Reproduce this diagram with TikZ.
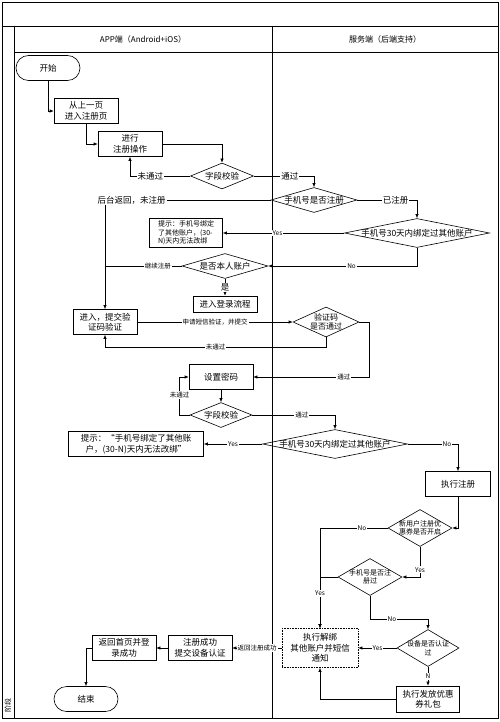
\documentclass[tikz,border=0pt]{standalone}
\usepackage{fontspec}
\setmainfont{Noto Sans CJK SC}
\usetikzlibrary{arrows.meta,shapes.geometric,calc}

\begin{document}
\begin{tikzpicture}[x=1pt,y=-1pt,line width=.6pt,
    >={Latex[length=4pt,width=3.4pt]},
    every node/.style={font=\fontsize{8.5}{10.5}\selectfont,align=center,inner sep=1pt},
    box/.style={draw,minimum width=64pt,minimum height=25pt},
    term/.style={box,rounded corners=12.5pt},
    dia/.style 2 args={draw,diamond,inner sep=0pt,minimum width=#1,minimum height=#2},
    small/.style={font=\fontsize{7}{8.5}\selectfont},
    lab/.style={fill=white,inner sep=1pt},
    tlab/.style={lab,font=\fontsize{6.5}{7}\selectfont},
    lane/.style={line width=.9pt}]
        \useasboundingbox (0,0) rectangle (500,722);
        % pool and lanes
        \draw[lane] (2,2) rectangle (498,718);
        \draw[lane] (2,26) -- (498,26) (14,26) -- (14,718) (14,52) -- (498,52) (272,26) -- (272,718);
        \node[font=\fontsize{8}{9}\selectfont] (App) at (143,39) {APP端（Android+iOS）};
        \node[font=\fontsize{8}{9}\selectfont] (Srv) at (385,39) {服务端（后端支持）};
        \node[rotate=90,font=\fontsize{7}{8}\selectfont] (Stage) at (8,705) {阶段};

        % app side
        \node[term] (Start) at (48,68) {开始};
        \node[box] (Prev) at (86,111) {从上一页\\进入注册页};
        \node[box] (Op) at (130,144) {进行\\注册操作};
        \node[dia={63}{26},label=center:{字段校验}] (Chk1) at (222,176) {};
        \node[box,align=left,minimum width=73pt,minimum height=29pt,font=\fontsize{7}{8.5}\selectfont] (Tip1) at (186,233) {提示：手机号绑定\\了其他账户，(30-\\N)天内无法改绑};
        \node[dia={86}{25},label=center:{是否本人账户}] (Self) at (225,266) {};
        \node[box,minimum height=16pt] (Login) at (225,304) {进入登录流程};
        \node[box] (Code) at (105,322) {进入，提交验\\证码验证};
        \node[box] (Pwd) at (221,377) {设置密码};
        \node[dia={62}{25},label=center:{字段校验}] (Chk2) at (221,415) {};
        \node[box,minimum width=135pt] (Tip2) at (136,444) {提示：“手机号绑定了其他账\\户，(30-N)天内无法改绑”};
        \node[box] (Succ) at (200,648) {注册成功\\提交设备认证};
        \node[box] (Home) at (124,648) {返回首页并登\\录成功};
        \node[term] (End) at (86,699) {结束};

        % server side
        \node[dia={86}{25},label=center:{手机号是否注册}] (Reg) at (314,200) {};
        \node[dia={145}{29},label=center:{手机号30天内绑定过其他账户}] (Bind1) at (417,233) {};
        \node[dia={66}{30},label={[font=\fontsize{8}{9.5}\selectfont]center:{验证码\\是否通过}}] (CodeOk) at (326,322) {};
        \node[dia={145}{29},label=center:{手机号30天内绑定过其他账户}] (Bind2) at (335,444) {};
        \node[box,minimum width=65pt] (Exec) at (458,484) {执行注册};
        \node[dia={64}{37},label={[small]center:{新用户注册优\\惠券是否开启}}] (Coupon) at (420,528) {};
        \node[dia={64}{37},label={[small]center:{手机号是否注\\册过}}] (Regd) at (370,577) {};
        \node[dia={62}{37},label={[small]center:{设备是否认证\\过}}] (Dev) at (428,648) {};
        \node[box,densely dotted,minimum width=76pt,minimum height=39pt] (Unbind) at (320,648) {执行解绑\\其他账户并短信\\通知};
        \node[box,minimum width=63pt,minimum height=26pt] (Gift) at (428,699) {执行发放优惠\\券礼包};

        % flow
        \draw[->] (Start.south) |- (Prev.west);
        \draw[->] (Prev.south) |- (Op.west);
        \draw[->] (Op.east) -| (Chk1.north);
        \draw[->] (Chk1.west) -| node[lab,pos=.33]{未通过} (Op.south);
        \draw[->] (Chk1.east) -| node[lab,pos=.3]{通过} (Reg.north);
        \draw[->] (Reg.east) -| node[lab,pos=.32]{已注册} (Bind1.north);
        \draw[->] (Reg.west) -| node[lab,pos=.42]{后台返回，未注册} (Code.north);
        \draw[->] (Bind1.west) -- node[tlab,pos=.55]{Yes} (Tip1.east);
        \draw[->] (Bind1.south) |- node[tlab,pos=.72]{No} (Self.east);
        \draw (Self.west) -- node[tlab,pos=.31]{继续注册} (Self.west -| Code.north);
        \draw[->] (Self.south) -- node[lab]{是} (Login.north);
        \draw[->] (Code.east) -- node[tlab]{申请短信验证，并提交} (CodeOk.west);
        \draw[->] (CodeOk.south) -- ++(0,10) -| node[tlab,pos=.25]{未通过} (Code.south);
        \draw[->] (CodeOk.east) -- ++(10,0) |- node[tlab,pos=.61]{通过} (Pwd.east);
        \draw[->] (Pwd.south) -- (Chk2.north);
        \draw[->] (Chk2.west) -- ++(-10,0) |- node[tlab,pos=.26]{未通过} (Pwd.west);
        \draw[->] (Chk2.east) -| node[tlab,pos=.3]{通过} (Bind2.north);
        \draw[->] (Bind2.west) -- node[tlab]{Yes} (Tip2.east);
        \draw[->] (Bind2.east) -| node[tlab,pos=.39]{No} (Exec.north);
        \draw[->] (Exec.south) |- (Coupon.east);
        \draw[->] (Coupon.west) -| node[tlab,pos=.19]{No} (Unbind.north);
        \draw[->] (Coupon.south) |- node[tlab,pos=.38]{Yes} (Regd.east);
        \draw[->] (Regd.west) -| node[tlab,pos=.66]{Yes} (Unbind.north);
        \draw[->] (Regd.south) -- ++(0,23) -| node[tlab,pos=.19]{No} (Dev.north);
        \draw[->] (Dev.west) -- node[tlab]{Yes} (Unbind.east);
        \draw[->] (Dev.south) -- node[tlab]{N} (Gift.north);
        \draw[->] (Gift.west) -| (Unbind.south);
        \draw[->] (Unbind.west) -- node[tlab]{返回注册成功} (Succ.east);
        \draw[->] (Succ.west) -- (Home.east);
        \draw[->] (Home.west) -| (End.north);
      \end{tikzpicture}
\end{document}
